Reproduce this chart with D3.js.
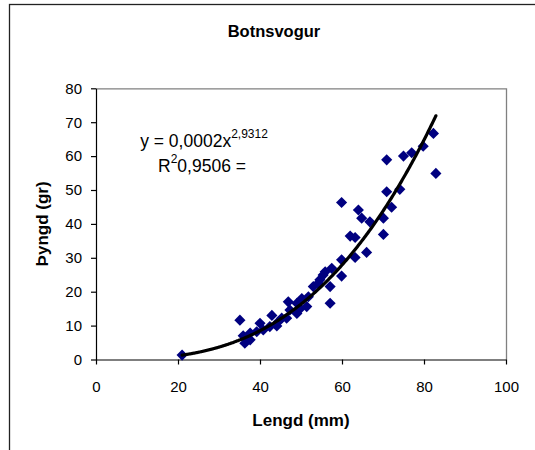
<!DOCTYPE html>
<html>
<head>
<meta charset="utf-8">
<script src="https://cdn.jsdelivr.net/npm/d3@7/dist/d3.min.js"></script>
<style>
  html, body { margin: 0; padding: 0; background: #fff; }
  svg { display: block; font-family: "Liberation Sans", Arial, sans-serif; }
</style>
</head>
<body>
<svg id="chart" width="535" height="450"></svg>
<script>
// ---- data ----
const lengthMm = [21.0, 35.1, 35.9, 36.3, 37.6, 37.6, 39.2, 40.0, 40.8, 42.4, 42.9, 44.1, 44.5, 45.3, 46.5,
  46.9, 47.3, 49.0, 49.0, 49.8, 50.2, 51.4, 51.8, 53.0, 54.2, 54.6, 55.4, 55.9, 57.1, 57.1,
  57.5, 59.9, 59.9, 59.9, 62.0, 63.2, 63.2, 64.0, 64.8, 66.0, 66.8, 70.1, 70.1, 70.9, 70.9,
  72.1, 74.1, 75.0, 77.0, 79.8, 82.3, 82.9];
const weightGr = [1.3, 11.6, 7.0, 4.8, 5.8, 7.8, 8.2, 10.7, 8.7, 9.7, 13.0, 9.9, 11.2, 12.2, 12.2,
  17.0, 14.6, 16.6, 13.6, 15.0, 18.0, 15.6, 18.5, 21.5, 22.5, 23.5, 24.9, 25.9, 21.5, 16.6,
  26.9, 29.4, 24.6, 46.3, 36.4, 36.0, 30.1, 44.1, 41.7, 31.6, 40.6, 36.9, 41.7, 49.5, 58.9,
  44.9, 50.2, 60.0, 61.0, 62.9, 66.7, 54.9];
const xTicks = [0, 20, 40, 60, 80, 100];
const yTicks = [0, 10, 20, 30, 40, 50, 60, 70, 80];
// power trendline y = a * x^b (label shows rounded coefficient)
const trendA = 0.000171;
const trendB = 2.9312;
const titleText = "Botnsvogur";
const xTitle = "Lengd (mm)";
const yTitle = "Þyngd (gr)";

// ---- layout ----
const svg = d3.select("#chart");
const x = d3.scaleLinear().domain([0, 100]).range([96, 506]);
const y = d3.scaleLinear().domain([0, 80]).range([359.5, 88.3]);

// outer chart frame (extends past the picture on right/bottom)
svg.append("rect")
  .attr("x", 9.5).attr("y", 4.5).attr("width", 700).attr("height", 700)
  .attr("fill", "none").attr("stroke", "#222").attr("stroke-width", 1.3);

// plot area border (top & right, gray)
svg.append("path")
  .attr("d", `M${x(0)},${y(80) + 0.5}H${x(100) + 0.5}V${y(0)}`)
  .attr("fill", "none").attr("stroke", "#808080").attr("stroke-width", 1.3);

// axes
const xAxis = d3.axisBottom(x).tickValues(xTicks).tickSize(5).tickSizeOuter(0).tickPadding(17);
const yAxis = d3.axisLeft(y).tickValues(yTicks).tickSize(5).tickSizeOuter(0).tickPadding(9);

const gx = svg.append("g").attr("transform", `translate(0,${y(0)})`).call(xAxis);
const gy = svg.append("g").attr("transform", `translate(${x(0)},0)`).call(yAxis);
[gx, gy].forEach(g => {
  g.selectAll("path, line").attr("stroke", "#000").attr("stroke-width", 1.2);
  g.selectAll("text").attr("font-size", 15).attr("fill", "#000")
    .attr("font-family", "'Liberation Sans', Arial, sans-serif");
});

// trendline
const xr = d3.extent(lengthMm);
const curvePts = d3.range(xr[0], xr[1] + 0.001, 0.25).map(v => [v, trendA * Math.pow(v, trendB)]);
curvePts.push([xr[1], trendA * Math.pow(xr[1], trendB)]);

// markers (diamonds)
const diamond = d3.symbol().type(d3.symbolSquare).size(62);
svg.append("g").selectAll("path")
  .data(lengthMm.map((v, i) => [v, weightGr[i]]))
  .join("path")
  .attr("d", diamond)
  .attr("transform", d => `translate(${x(d[0])},${y(d[1])}) rotate(45)`)
  .attr("fill", "#000080");

svg.append("path")
  .datum(curvePts)
  .attr("d", d3.line().x(d => x(d[0])).y(d => y(d[1])).curve(d3.curveMonotoneX))
  .attr("fill", "none").attr("stroke", "#000").attr("stroke-width", 3.2)
  .attr("stroke-linecap", "round");

// title
svg.append("text").attr("x", 274).attr("y", 37)
  .attr("text-anchor", "middle").attr("font-size", 16.5).attr("font-weight", "bold")
  .text(titleText);

// axis titles
svg.append("text").attr("x", 301).attr("y", 425.5)
  .attr("text-anchor", "middle").attr("font-size", 17).attr("font-weight", "bold")
  .text(xTitle);
svg.append("text").attr("transform", `translate(48,${(y(0) + y(80)) / 2}) rotate(-90)`)
  .attr("text-anchor", "middle").attr("font-size", 17).attr("font-weight", "bold")
  .text(yTitle);

// equation label
const eq = svg.append("text").attr("font-size", 17.5).attr("text-anchor", "middle");
const l1 = eq.append("tspan").attr("x", 204).attr("y", 146.5);
l1.append("tspan").text("y = 0,0002x");
l1.append("tspan").attr("font-size", 12).attr("dy", -9).text("2,9312");
const eq2 = svg.append("text").attr("font-size", 17.5).attr("text-anchor", "middle")
  .attr("x", 202).attr("y", 171.5);
eq2.append("tspan").text("R");
eq2.append("tspan").attr("font-size", 12).attr("dy", -9).text("2");
eq2.append("tspan").attr("dy", 9).text("0,9506 =");
</script>
</body>
</html>
